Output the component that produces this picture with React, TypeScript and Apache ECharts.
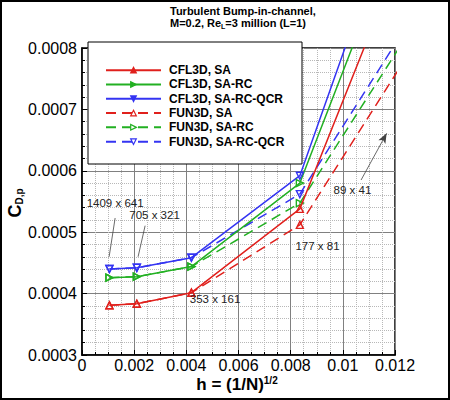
import React, { useEffect, useRef } from 'react';
import * as echarts from 'echarts';

// h = (1/N)^1/2 for each grid
const hValues = [0.0010522, 0.0021021, 0.0041947, 0.0083516, 0.016554];
const gridNames = ['1409 x 641', '705 x 321', '353 x 161', '177 x 81', '89 x 41'];

const cfl3dSA = [0.000381, 0.0003835, 0.0004015, 0.000538, 0.001411];
const cfl3dSARC = [0.000426, 0.0004275, 0.000444, 0.00058, 0.001482];
const cfl3dQCR = [0.00044, 0.000442, 0.0004585, 0.000592, 0.001578];
const fun3dSA = [0.000381, 0.0003835, 0.0004015, 0.000512, 0.00106];
const fun3dSARC = [0.000426, 0.0004275, 0.000444, 0.0005475, 0.001092];
const fun3dQCR = [0.00044, 0.000442, 0.0004585, 0.000562, 0.001111];

// where the grid labels sit (data units)
const labelH = [0.00127, 0.00278, 0.0051, 0.00903, 0.01037];
const labelC = [0.0005476, 0.000528, 0.000391, 0.0004775, 0.000569];
// leader lines: [from, to]
const leaders = [
  [[0.00127, 0.0005231], [0.00104, 0.00046]],
  [[0.00242, 0.0005106], [0.00215, 0.00046]],
  [[0.0107, 0.000585], [0.01168, 0.000661]],
];

const FONT = '"Liberation Sans", Arial, Helvetica, sans-serif';
const RED = '#e0201c';
const GREEN = '#22b022';
const BLUE = '#3434f2';

const makeSeries = (
  name: string,
  values: number[],
  color: string,
  rotate: number,
  dashed: boolean,
) => ({
  name,
  type: 'line',
  data: hValues.map((h, i) => [h, values[i]]),
  symbol: 'triangle',
  symbolSize: 7,
  symbolRotate: rotate,
  lineStyle: { color, width: 1.5, type: dashed ? [10, 6] : 'solid' },
  itemStyle: { color: 'rgba(255,255,255,0)', borderColor: color, borderWidth: 1.4 },
  emphasis: { disabled: true },
  z: dashed ? 2 : 3,
});

const App: React.FC = () => {
  const chartRef = useRef<HTMLDivElement>(null);

  useEffect(() => {
    if (!chartRef.current) return;
    document.body.style.margin = '0';
    const chart = echarts.init(chartRef.current, null, { renderer: 'svg' });

    const series: any[] = [
      makeSeries('CFL3D, SA', cfl3dSA, RED, 0, false),
      makeSeries('CFL3D, SA-RC', cfl3dSARC, GREEN, -90, false),
      makeSeries('CFL3D, SA-RC-QCR', cfl3dQCR, BLUE, 180, false),
      makeSeries('FUN3D, SA', fun3dSA, RED, 0, true),
      makeSeries('FUN3D, SA-RC', fun3dSARC, GREEN, -90, true),
      makeSeries('FUN3D, SA-RC-QCR', fun3dQCR, BLUE, 180, true),
    ];
    const legendColors = [RED, GREEN, BLUE, RED, GREEN, BLUE];

    // grid labels + leader lines hang on the first series
    series[0].markPoint = {
      silent: true,
      symbol: 'circle',
      symbolSize: 0,
      label: {
        show: true,
        formatter: '{b}',
        color: '#222',
        fontSize: 11.5,
        fontFamily: FONT,
      },
      data: gridNames.map((n, i) => ({ name: n, coord: [labelH[i], labelC[i]] })),
    };
    series[0].markLine = {
      silent: true,
      symbol: ['none', 'none'],
      symbolSize: [6, 10],
      label: { show: false },
      lineStyle: { color: '#444', width: 0.8, type: 'solid' },
      data: leaders.map((l, i) => [
        { coord: l[0] },
        { coord: l[1], symbol: i === leaders.length - 1 ? 'arrow' : 'none' },
      ]),
    };

    const option = {
      animation: false,
      grid: {
        left: 82,
        right: 55,
        top: 48,
        bottom: 45,
        show: true,
        borderColor: '#000',
        borderWidth: 1.5,
        backgroundColor: '#fff',
      },
      xAxis: {
        type: 'value',
        min: 0,
        max: 0.012,
        interval: 0.002,
        axisLine: { show: true, lineStyle: { color: '#000', width: 1.5 } },
        axisTick: { show: true, inside: true, length: 5, lineStyle: { color: '#000' } },
        minorTick: { show: true, splitNumber: 4, length: 3, lineStyle: { color: '#000' } },
        splitLine: { show: true, lineStyle: { color: '#808080', width: 1 } },
        minorSplitLine: { show: true, lineStyle: { color: '#b8b8b8', type: 'dotted', width: 1 } },
        axisLabel: {
          color: '#000',
          fontSize: 16,
          fontFamily: FONT,
          margin: 2,
          formatter: (v: number) => (v === 0 ? '0' : String(+v.toFixed(3))),
        },
      },
      yAxis: {
        type: 'value',
        min: 0.0003,
        max: 0.0008,
        interval: 0.0001,
        axisLine: { show: true, lineStyle: { color: '#000', width: 1.5 } },
        axisTick: { show: true, inside: true, length: 5, lineStyle: { color: '#000' } },
        minorTick: { show: true, splitNumber: 5, length: 3, lineStyle: { color: '#000' } },
        splitLine: { show: true, lineStyle: { color: '#808080', width: 1 } },
        minorSplitLine: { show: true, lineStyle: { color: '#b8b8b8', type: 'dotted', width: 1 } },
        axisLabel: {
          color: '#000',
          fontSize: 16,
          fontFamily: FONT,
          margin: 5,
          formatter: (v: number) => v.toFixed(4),
        },
      },
      legend: {
        orient: 'vertical',
        left: 105,
        top: 63,
        padding: 0,
        itemWidth: 55,
        itemHeight: 7,
        itemGap: 0,
        selectedMode: false,
        z: 5,
        textStyle: {
          fontFamily: FONT,
          fontSize: 12,
          fontWeight: 'bold',
          color: '#000',
          lineHeight: 14.3,
          padding: [0, 0, 0, 3],
        },
        // CFL3D keys show filled markers, FUN3D keys hollow ones
        data: series.map((s, i) => ({
          name: s.name,
          itemStyle: {
            color: i < 3 ? legendColors[i] : '#fff',
            borderColor: legendColors[i],
            borderWidth: 1.2,
          },
        })),
      },
      graphic: [
        {
          type: 'rect',
          shape: { x: 88, y: 42, width: 214, height: 122 },
          style: { fill: '#fff', stroke: '#000', lineWidth: 1 },
          z: 4,
          silent: true,
        },
        {
          type: 'text',
          x: 170,
          y: 17,
          style: {
            text: '{b|Turbulent Bump-in-channel,}\n{b|M=0.2, Re}{s|L}{b|=3 million (L=1)}',
            textAlign: 'left',
            textVerticalAlign: 'middle',
            rich: {
              b: { fontFamily: FONT, fontSize: 11, fontWeight: 'bold', fill: '#000', lineHeight: 12.5 },
              s: {
                fontFamily: FONT,
                fontSize: 7,
                fontWeight: 'bold',
                fill: '#000',
                lineHeight: 12.5,
                padding: [6, 0, 0, 0],
              },
            },
          },
          silent: true,
        },
        {
          type: 'text',
          x: 237,
          y: 384,
          style: {
            text: '{a|h = (1/N)}{e|1/2}',
            textAlign: 'center',
            textVerticalAlign: 'middle',
            rich: {
              a: { fontFamily: FONT, fontSize: 17, fontWeight: 'bold', fill: '#000', lineHeight: 18 },
              e: {
                fontFamily: FONT,
                fontSize: 10,
                fontWeight: 'bold',
                fill: '#000',
                lineHeight: 18,
                padding: [0, 0, 8, 0],
              },
            },
          },
          silent: true,
        },
        {
          type: 'text',
          x: 15,
          y: 203,
          rotation: Math.PI / 2,
          style: {
            text: '{c|C}{s|D,p}',
            textAlign: 'center',
            textVerticalAlign: 'middle',
            rich: {
              c: { fontFamily: FONT, fontSize: 18, fontWeight: 'bold', fill: '#000', lineHeight: 22 },
              s: {
                fontFamily: FONT,
                fontSize: 10,
                fontWeight: 'bold',
                fill: '#000',
                lineHeight: 22,
                padding: [8, 0, 0, 0],
              },
            },
          },
          silent: true,
        },
        {
          type: 'rect',
          shape: { x: 1, y: 1, width: 448, height: 398 },
          style: { fill: 'none', stroke: '#000', lineWidth: 2 },
          z: 10,
          silent: true,
        },
      ],
      series,
    };

    chart.setOption(option);

    return () => {
      chart.dispose();
    };
  }, []);

  return <div ref={chartRef} style={{ width: 450, height: 400 }} />;
};

export default App;
